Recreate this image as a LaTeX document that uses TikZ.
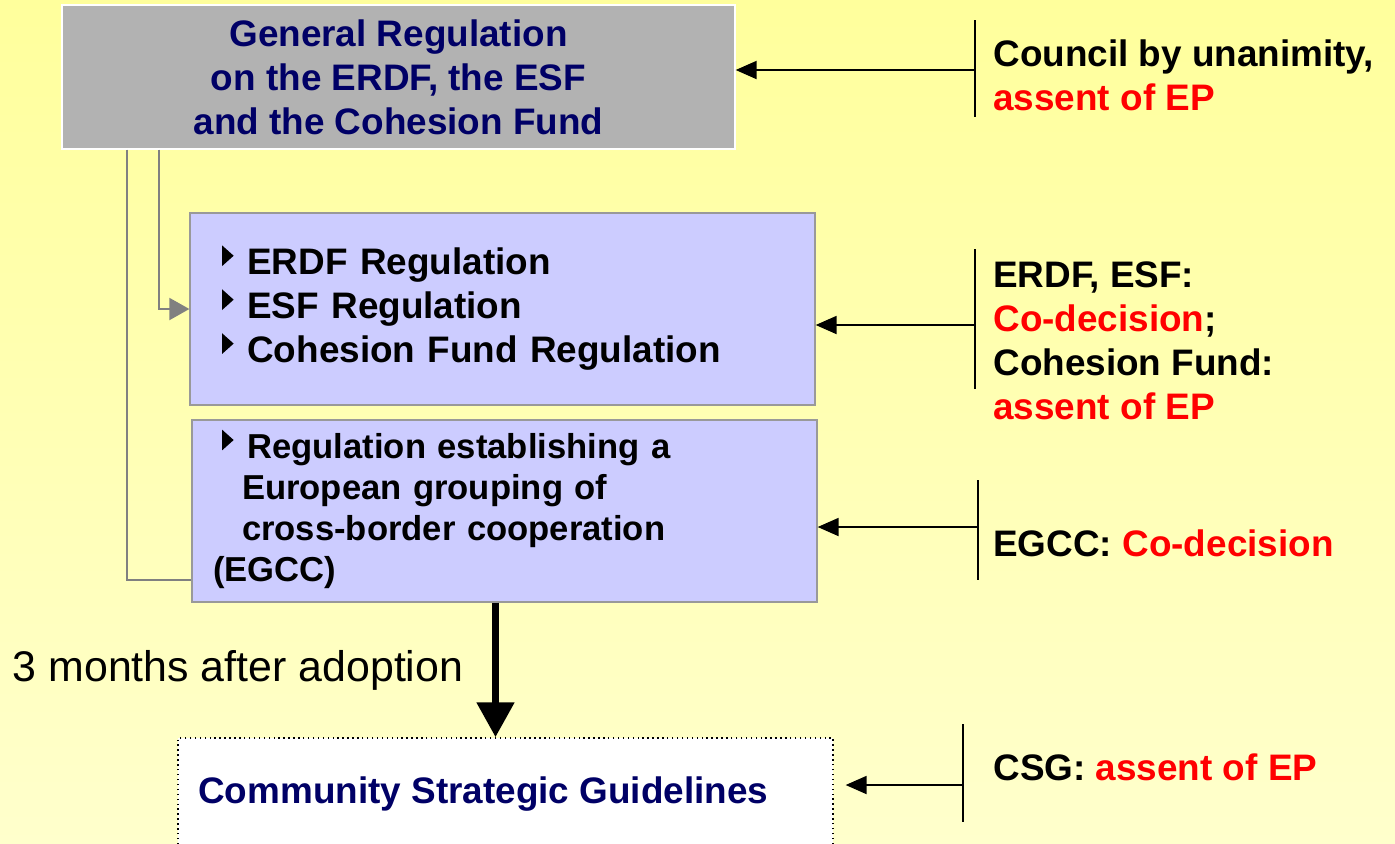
\documentclass[tikz,border=0pt]{standalone}
\usepackage{fontspec}
\setmainfont{Liberation Sans}
\usetikzlibrary{arrows.meta}

\definecolor{bgtop}{RGB}{255,255,156}
\definecolor{bgbot}{RGB}{255,255,204}
\definecolor{genfill}{RGB}{178,178,178}
\definecolor{regfill}{RGB}{204,204,255}
\definecolor{navy}{RGB}{0,0,102}
\definecolor{epred}{RGB}{255,0,0}
\definecolor{feedgray}{RGB}{128,128,128}

% small bullet triangle
\newcommand{\bul}{\smash{\tikz[baseline=0pt]\fill[black] (0pt,4.8pt) -- (0pt,16.6pt) -- (6.6pt,10.7pt) -- cycle;}\hspace{7.8pt}}

\begin{document}
\begin{tikzpicture}[x=0.02cm,y=-0.02cm,
    txt/.style={font=\bfseries\fontsize{21}{25}\selectfont},
    genbox/.style={txt,fill=genfill,draw=white,line width=0.8pt,align=center,text=navy,
        minimum width=13.46cm,minimum height=2.88cm,inner sep=0pt},
    regbox/.style={txt,fill=regfill,draw=feedgray!80,line width=0.8pt,align=left,
        minimum width=12.5cm,inner ysep=0pt},
    csgbox/.style={fill=white,draw=black,dotted,line width=0.8pt,
        minimum width=13.1cm,minimum height=2.8cm},
    lab/.style={txt,align=left,inner sep=0pt,anchor=west},
    bar/.style={line width=1pt},
    conn/.style={line width=1.1pt,-{Triangle[length=0.42cm,width=0.36cm]}},
    feed/.style={draw=feedgray,line width=1.1pt},
    bigarrow/.style={line width=4.5pt,-{Triangle[length=0.7cm,width=0.72cm]}}]

    \shade[top color=bgtop,bottom color=bgbot] (0,0) rectangle (1395,843);
    \useasboundingbox (0,0) rectangle (1395,843);

    % boxes
    \node[genbox] (gen) at (398.5,77) {General Regulation\\on the ERDF, the ESF\\and the Cohesion Fund};
    \node[regbox,text width=11.22cm,inner xsep=0.64cm,minimum height=3.84cm] (erdf) at (502.5,309)
        {\bul ERDF Regulation\\\bul ESF Regulation\\\bul Cohesion Fund Regulation};
    \node[regbox,text width=12.42cm,inner xsep=0.04cm,minimum height=3.64cm,
        font=\bfseries\fontsize{19.7}{23.2}\selectfont] (egcc) at (504.5,511)
        {\hspace*{0.56cm}\bul Regulation establishing a\\\hspace*{0.96cm}European grouping of\\
         \hspace*{0.96cm}cross-border cooperation\\\hspace*{0.38cm}(EGCC)};
    \node[csgbox] (csg) at (505.5,808) {};
    \node[txt,text=navy,anchor=west,inner sep=0pt] (csgtxt) at (198,794) {Community Strategic Guidelines};

    % links from the general regulation
    \draw[feed] (gen.south -| 127,0) |- (egcc.west |- 0,580);
    \draw[feed,-{Triangle[length=0.4cm,width=0.44cm]},color=feedgray] (gen.south -| 159,0) |- (erdf.west);

    \draw[bigarrow] (egcc.south -| 495.5,0) -- (csg.north -| 495.5,0);
    \node[font=\fontsize{24.4}{28}\selectfont,inner sep=0pt] (months) at (238,670) {3 months after adoption};

    % procedures on the right
    \coordinate (c1) at (975,70);
    \coordinate (c2) at (975,325);
    \coordinate (c3) at (978,527);
    \coordinate (c4) at (963,785);
    \draw[bar] (975,20) -- (975,117);
    \draw[bar] (975,249) -- (975,389);
    \draw[bar] (978,480) -- (978,580);
    \draw[bar] (963,724) -- (963,822);
    \draw[conn] (c1) -- (c1 -| gen.east);
    \draw[conn] (c2) -- (c2 -| erdf.east);
    \draw[conn] (c3) -- (c3 -| egcc.east);
    \draw[conn,shorten >=0.24cm] (c4) -- (c4 -| csg.east);

    \node[lab] (l1) at (993,75) {Council by unanimity,\\\textcolor{epred}{assent of EP}};
    \node[lab] (l2) at (993,340.5) {ERDF, ESF:\\\textcolor{epred}{Co-decision};\\Cohesion Fund:\\\textcolor{epred}{assent of EP}};
    \node[lab] (l3) at (993,543) {EGCC: \textcolor{epred}{Co-decision}};
    \node[lab] (l4) at (993,767) {CSG: \textcolor{epred}{assent of EP}};
\end{tikzpicture}
\end{document}
